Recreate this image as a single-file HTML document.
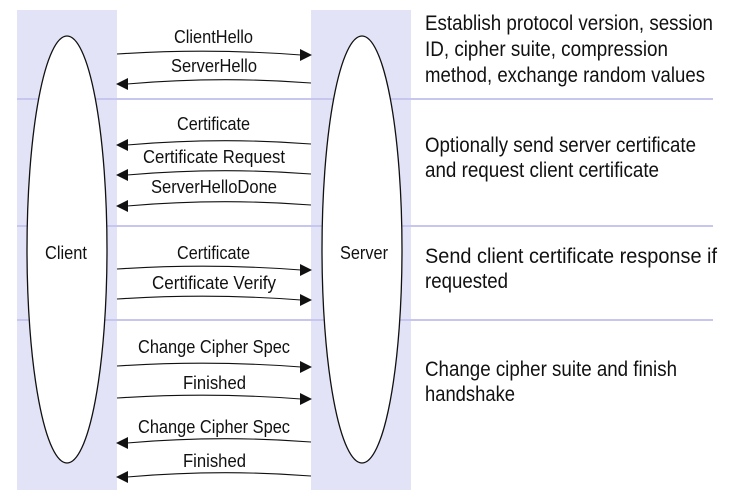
<!DOCTYPE html>
<html><head><meta charset="utf-8"><style>html,body{margin:0;padding:0;background:#fff}svg{display:block}</style></head>
<body>
<svg width="741" height="501" xmlns="http://www.w3.org/2000/svg" font-family="Liberation Sans, sans-serif" fill="#111">
<rect x="17" y="10" width="100" height="480" fill="#e3e3f8"/>
<rect x="311" y="10" width="100" height="480" fill="#e3e3f8"/>
<g stroke="#c6c6ee" stroke-width="2">
<line x1="17" y1="99" x2="713" y2="99"/>
<line x1="17" y1="226" x2="713" y2="226"/>
<line x1="17" y1="320" x2="713" y2="320"/>
</g>
<ellipse cx="67" cy="249.5" rx="40" ry="213.5" fill="#fff" stroke="#111" stroke-width="1.3"/>
<ellipse cx="362" cy="249.5" rx="40" ry="213.5" fill="#fff" stroke="#111" stroke-width="1.3"/>
<g font-size="18">
<text x="45" y="259" textLength="42" lengthAdjust="spacingAndGlyphs">Client</text>
<text x="340" y="259" textLength="48" lengthAdjust="spacingAndGlyphs">Server</text>
</g>
<defs>
<g id="r"><path d="M117,0 Q210,-6 301,1" fill="none" stroke="#111" stroke-width="1.1"/><polygon points="312,1 300,-5 300,7"/></g>
<g id="l"><path d="M311,0 Q220,-7 127,1" fill="none" stroke="#111" stroke-width="1.1"/><polygon points="116,1 128,-5 128,7"/></g>
</defs>
<use href="#r" y="54"/>
<use href="#l" y="83"/>
<use href="#l" y="144"/>
<use href="#l" y="174"/>
<use href="#l" y="205"/>
<use href="#r" y="269"/>
<use href="#r" y="299"/>
<use href="#r" y="366"/>
<use href="#r" y="398"/>
<use href="#l" y="442"/>
<use href="#l" y="476"/>
<g font-size="18" lengthAdjust="spacingAndGlyphs">
<text x="174" y="43" textLength="79" lengthAdjust="spacingAndGlyphs">ClientHello</text>
<text x="171" y="72" textLength="86" lengthAdjust="spacingAndGlyphs">ServerHello</text>
<text x="177" y="130" textLength="73" lengthAdjust="spacingAndGlyphs">Certificate</text>
<text x="143" y="163" textLength="142" lengthAdjust="spacingAndGlyphs">Certificate Request</text>
<text x="151" y="193" textLength="126" lengthAdjust="spacingAndGlyphs">ServerHelloDone</text>
<text x="177" y="259" textLength="73" lengthAdjust="spacingAndGlyphs">Certificate</text>
<text x="152" y="289" textLength="124" lengthAdjust="spacingAndGlyphs">Certificate Verify</text>
<text x="138" y="353" textLength="152" lengthAdjust="spacingAndGlyphs">Change Cipher Spec</text>
<text x="183" y="389" textLength="63" lengthAdjust="spacingAndGlyphs">Finished</text>
<text x="138" y="433" textLength="152" lengthAdjust="spacingAndGlyphs">Change Cipher Spec</text>
<text x="183" y="467" textLength="63" lengthAdjust="spacingAndGlyphs">Finished</text>
</g>
<g font-size="21">
<text x="425" y="30" textLength="288" lengthAdjust="spacingAndGlyphs">Establish protocol version, session</text>
<text x="425" y="56" textLength="243" lengthAdjust="spacingAndGlyphs">ID, cipher suite, compression</text>
<text x="425" y="82" textLength="280" lengthAdjust="spacingAndGlyphs">method, exchange random values</text>
<text x="425" y="152" textLength="271" lengthAdjust="spacingAndGlyphs">Optionally send server certificate</text>
<text x="425" y="177" textLength="234" lengthAdjust="spacingAndGlyphs">and request client certificate</text>
<text x="425" y="263" textLength="292" lengthAdjust="spacingAndGlyphs">Send client certificate response if</text>
<text x="425" y="288" textLength="83" lengthAdjust="spacingAndGlyphs">requested</text>
<text x="425" y="376" textLength="252" lengthAdjust="spacingAndGlyphs">Change cipher suite and finish</text>
<text x="425" y="401" textLength="90" lengthAdjust="spacingAndGlyphs">handshake</text>
</g>
</svg>
</body></html>
